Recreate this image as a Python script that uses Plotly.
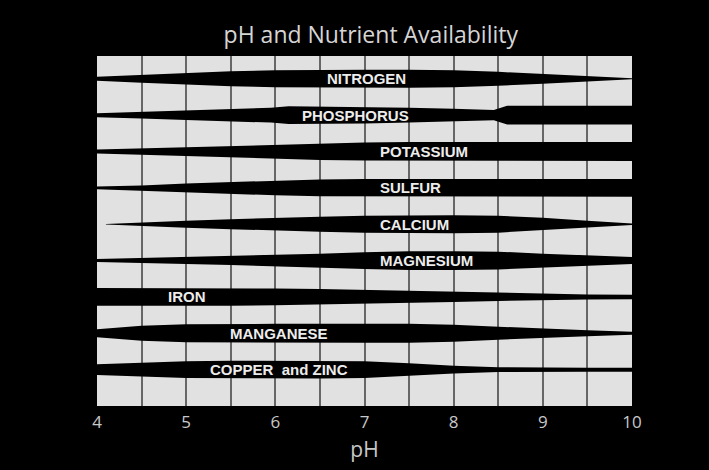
import plotly.graph_objects as go

# ---- data (band thickness, in px of the original chart) ----
nutrients = ["NITROGEN", "PHOSPHORUS", "POTASSIUM", "SULFUR", "CALCIUM",
             "MAGNESIUM", "IRON", "MANGANESE", "COPPER  and ZINC"]

ph_grid = [4, 4.5, 5, 5.5, 6, 6.5, 7, 7.5, 8, 8.5, 9, 9.5, 10]

nitrogen = [4, 8, 12, 15, 17, 18, 18, 18, 17, 14, 10, 6, 1]
ph_phosphorus = [4, 4.5, 5, 5.5, 5.95, 6.15, 7, 7.5, 8, 8.45, 8.6, 10]
phosphorus = [4, 7, 10, 12, 15, 18, 17, 15, 13, 10.5, 19, 19]
potassium = [4, 6.5, 9, 12, 14.5, 17, 18, 19, 19, 19, 19, 19, 19]
sulfur = [3, 5, 9, 12, 15, 17, 18, 18, 18, 18, 18, 18, 18]
ph_calcium = [4.1, 4.5, 5, 5.5, 6, 6.5, 7, 7.5, 8, 8.5, 9, 9.5, 10]
calcium = [0.5, 4, 7, 10, 13, 15, 17, 18, 18, 17, 13, 7, 1.5]
magnesium = [3, 5, 7, 9, 12, 14, 17, 19, 19, 18, 14, 11, 7]
iron = [18, 18, 18, 18, 17, 16, 14, 12, 10, 8, 6, 5, 4.5]
manganese = [8, 15, 18, 19, 19, 19, 19, 19, 17, 13, 9, 6, 3]
copper_zinc = [11, 14, 17, 18, 18, 18, 17, 13, 8, 5, 4, 4, 4]

label_ph = [7.02, 6.90, 7.15, 7.15, 7.15, 7.15, 5.01, 6.04, 6.04]
label_anchor = ["center", "center", "left", "left", "left", "left", "center", "center", "center"]

ph_ticks = [4, 5, 6, 7, 8, 9, 10]

bands = [
    (ph_grid, nitrogen), (ph_phosphorus, phosphorus), (ph_grid, potassium),
    (ph_grid, sulfur), (ph_calcium, calcium), (ph_grid, magnesium),
    (ph_grid, iron), (ph_grid, manganese), (ph_grid, copper_zinc),
]

ROW_PX = 36.66  # pixels per row unit in the original

fig = go.Figure()
for row, (xs, ws) in enumerate(bands):
    half = [w / 2 / ROW_PX for w in ws]
    upper = [row - h for h in half]
    lower = [row + h for h in half]
    fig.add_trace(go.Scatter(
        x=list(xs) + list(xs)[::-1],
        y=upper + lower[::-1],
        mode="lines", fill="toself", fillcolor="black",
        line=dict(width=0, color="black"),
        hoverinfo="skip", showlegend=False,
    ))

for row, (name, xp, anc) in enumerate(zip(nutrients, label_ph, label_anchor)):
    fig.add_annotation(
        x=xp, y=row, text=name, showarrow=False, xanchor=anc, yanchor="middle",
        font=dict(family="Liberation Sans, Arial", size=15, color="#ececec", weight="bold"),
    )

fig.update_layout(
    width=709, height=470, autosize=False,
    margin=dict(l=97, r=77, t=56, b=60),
    paper_bgcolor="black", plot_bgcolor="#e1e1e1",
    title=dict(text="pH and Nutrient Availability", x=0.523, xanchor="center",
               xref="container", yref="container", y=1 - 35 / 470, yanchor="middle",
               font=dict(family="Open Sans", size=23, color="#d5d5d5")),
    xaxis=dict(range=[4, 10], tickvals=ph_ticks, ticktext=[str(t) for t in ph_ticks],
               ticks="", showgrid=True, gridcolor="#666666", gridwidth=2,
               minor=dict(dtick=0.5, showgrid=True, gridcolor="#666666", gridwidth=2),
               zeroline=False, showline=False, ticklabelstandoff=4,
               tickfont=dict(family="Open Sans", size=17, color="#c8c8c8"),
               title=dict(text="pH", standoff=10,
                          font=dict(family="Open Sans", size=21, color="#c8c8c8"))),
    yaxis=dict(range=[9.0, -0.627], showgrid=False, zeroline=False, showticklabels=False,
               ticks="", showline=False),
)

fig.write_html(
    "out.html",
    config={"displayModeBar": False},
    post_script="document.body.style.margin='0';document.body.style.background='black';",
)
